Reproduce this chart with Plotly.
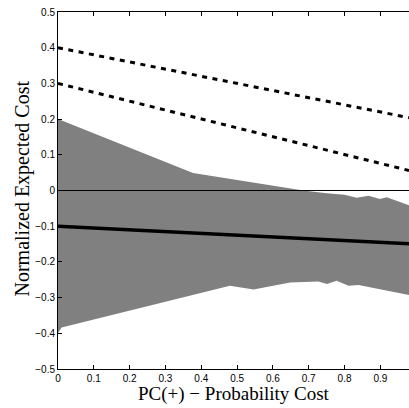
import plotly.graph_objects as go

# Gray band (upper and lower envelopes)
band_upper_x = [0.0, 0.377, 0.685, 0.75, 0.80, 0.834, 0.867, 0.899, 0.918, 0.98]
band_upper_y = [0.20, 0.049, 0.0, -0.008, -0.012, -0.020, -0.0145, -0.024, -0.019, -0.041]
band_lower_x = [0.0, 0.01, 0.397, 0.480, 0.546, 0.648, 0.727, 0.751, 0.778, 0.811, 0.839, 0.98]
band_lower_y = [-0.40, -0.384, -0.288, -0.267, -0.277, -0.258, -0.255, -0.262, -0.253, -0.267, -0.265, -0.293]

# Lines
line_x = [0.0, 0.98]
mean_y = [-0.10, -0.149]
dash_hi_y = [0.40, 0.204]
dash_lo_y = [0.30, 0.056]
zero_y = [0.0, 0.0]

xtick_vals = [0, 0.1, 0.2, 0.3, 0.4, 0.5, 0.6, 0.7, 0.8, 0.9]
xtick_text = ["0", "0.1", "0.2", "0.3", "0.4", "0.5", "0.6", "0.7", "0.8", "0.9"]
ytick_vals = [-0.5, -0.4, -0.3, -0.2, -0.1, 0, 0.1, 0.2, 0.3, 0.4, 0.5]
ytick_text = ["\u22120.5", "\u22120.4", "\u22120.3", "\u22120.2", "\u22120.1", "0",
              "0.1", "0.2", "0.3", "0.4", "0.5"]
x_title = "PC(+) \u2212 Probability Cost"
y_title = "Normalized Expected Cost"

fig = go.Figure()
fig.add_trace(go.Scatter(
    x=band_upper_x + band_lower_x[::-1],
    y=band_upper_y + band_lower_y[::-1],
    fill="toself", fillcolor="#808080", line=dict(width=0), mode="lines",
    hoverinfo="skip", showlegend=False))
fig.add_trace(go.Scatter(x=line_x, y=zero_y, mode="lines",
                         line=dict(color="black", width=1), showlegend=False))
fig.add_trace(go.Scatter(x=line_x, y=mean_y, mode="lines",
                         line=dict(color="black", width=3.5), showlegend=False))
fig.add_trace(go.Scatter(x=line_x, y=dash_hi_y, mode="lines",
                         line=dict(color="black", width=3, dash="5px,5.5px"), showlegend=False))
fig.add_trace(go.Scatter(x=line_x, y=dash_lo_y, mode="lines",
                         line=dict(color="black", width=3, dash="5px,5.5px"), showlegend=False))

serif = "Liberation Serif, Times New Roman"
fig.add_annotation(text=x_title, xref="paper", yref="paper", x=0.5, y=0,
                   xanchor="center", yanchor="middle", yshift=-25, borderpad=0,
                   showarrow=False, font=dict(family=serif, size=19, color="black"))
fig.add_annotation(text=y_title, xref="paper", yref="paper", x=0, y=0.5,
                   xanchor="center", yanchor="middle", xshift=-36, yshift=2, textangle=-90,
                   borderpad=0, showarrow=False, font=dict(family=serif, size=20, color="black"))

tick_font = dict(family="Liberation Sans, Arial", size=10, color="black")
fig.update_layout(
    width=409, height=408,
    margin=dict(l=58, r=0, t=12, b=39),
    plot_bgcolor="white", paper_bgcolor="white",
    showlegend=False,
    xaxis=dict(
        range=[0, 0.98], tickvals=xtick_vals, ticktext=xtick_text,
        ticks="inside", ticklen=4, tickcolor="black", tickwidth=1,
        showline=True, linecolor="black", linewidth=1, mirror="ticks",
        showgrid=False, zeroline=False, automargin=False,
        tickfont=tick_font,
    ),
    yaxis=dict(
        range=[-0.5, 0.5], tickvals=ytick_vals, ticktext=ytick_text,
        ticks="inside", ticklen=4, tickcolor="black", tickwidth=1,
        showline=True, linecolor="black", linewidth=1, mirror=False,
        showgrid=False, zeroline=False, automargin=False,
        tickfont=tick_font,
    ),
)
fig.write_html("out.html", config={"displayModeBar": False},
               post_script="document.body.style.margin='0';document.body.style.overflow='hidden';")
